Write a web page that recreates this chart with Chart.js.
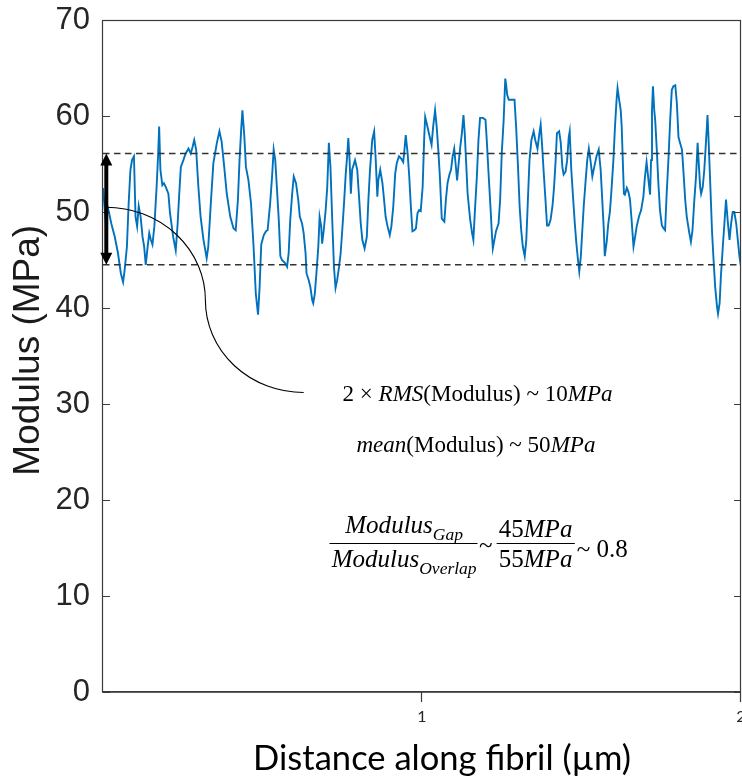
<!DOCTYPE html>
<html>
<head>
<meta charset="utf-8">
<title>Modulus along fibril</title>
<script src="https://cdn.jsdelivr.net/npm/chart.js@4.4.1/dist/chart.umd.min.js"></script>
<style>
  html, body { margin: 0; padding: 0; background: #ffffff; overflow: hidden; }
  #wrap { width: 742px; height: 777px; position: relative; }
  canvas { display: block; }
</style>
</head>
<body>
<div id="wrap"><canvas id="chart" width="742" height="777"></canvas></div>
<script>
// Distance along the fibril (µm) and measured modulus (MPa)
const distance = [
  0.000,0.008,0.014,0.019,0.026,0.037,0.047,0.056,0.063,0.068,0.075,0.080,0.086,0.091,0.097,0.102,0.107,0.112,0.118,0.124,0.129,0.134,0.140,0.145,0.150,0.155,0.161,0.168,0.173,0.176,0.180,0.186,0.191,0.197,0.205,0.210,0.220,0.228,0.234,0.239,0.244,0.252,0.259,0.268,
  0.275,0.281,0.286,0.292,0.299,0.306,0.315,0.325,0.330,0.338,0.346,0.357,0.365,0.372,0.380,0.388,0.399,0.409,0.416,0.423,0.428,0.433,0.437,0.443,0.448,0.456,0.464,0.472,0.479,0.486,0.491,0.496,0.504,0.511,0.516,
  0.524,0.530,0.535,0.540,0.545,0.551,0.556,0.561,0.570,0.577,0.582,0.587,0.593,0.598,0.605,0.612,0.617,0.624,0.629,0.635,0.638,0.645,0.650,0.656,0.659,0.664,0.669,0.675,0.679,0.684,0.687,0.692,0.698,0.703,0.708,0.713,0.719,0.724,0.729,0.734,0.740,0.745,0.750,0.755,0.761,0.766,0.769,0.773,0.777,0.781,0.790,0.797,
  0.802,0.808,0.813,0.820,0.827,0.832,0.837,0.844,0.850,0.855,0.860,0.863,0.869,0.876,0.881,0.886,0.892,0.899,0.904,0.910,0.916,0.921,0.928,0.934,0.941,0.944,0.949,0.955,0.960,0.965,0.970,0.976,0.981,0.986,0.991,0.996,1.002,1.007,1.010,1.015,1.023,1.030,1.035,1.041,1.046,1.051,1.056,1.062,1.070,
  1.075,1.080,1.086,1.091,1.096,1.101,1.107,1.110,1.115,1.120,1.125,1.130,1.134,1.138,1.143,1.151,1.157,1.161,1.166,1.172,1.177,1.182,1.191,1.199,1.203,1.208,1.214,1.219,1.222,1.227,1.232,1.240,1.245,1.250,1.256,1.261,1.264,1.267,1.272,1.280,1.290,1.295,1.301,1.306,1.311,1.316,1.322,1.327,1.332,1.337,
  1.343,1.350,1.355,1.362,1.368,1.372,1.376,1.381,1.387,1.392,1.397,1.403,1.409,1.414,1.419,1.423,1.430,1.435,1.440,1.444,1.450,1.455,1.460,1.463,1.468,1.474,1.479,1.484,1.489,1.493,1.498,1.502,1.507,1.513,1.518,1.523,1.528,1.534,1.540,1.547,1.554,1.560,1.565,1.570,1.573,1.579,1.584,1.589,
  1.594,1.600,1.605,1.610,1.613,1.618,1.623,1.626,1.629,1.633,1.636,1.642,1.647,1.652,1.657,1.663,1.668,1.673,1.680,1.687,1.694,1.699,1.704,1.710,1.715,1.718,1.721,1.724,1.728,1.731,1.736,1.741,1.746,1.752,1.757,1.762,1.767,1.773,1.778,1.783,1.788,1.794,1.799,1.804,1.809,1.815,1.820,1.825,1.830,1.838,1.843,1.848,1.853,1.859,1.864,
  1.867,1.872,1.875,1.880,1.885,1.890,1.893,1.895,1.898,1.904,1.909,1.914,1.919,1.925,1.928,1.933,1.937,1.943,1.948,1.953,1.958,1.964,1.969,1.974,1.979,1.985,1.990,1.995,2.000
];
const modulus = [
  52.5,49.2,50.6,49.9,48.8,47.4,45.7,43.6,42.7,44.0,46.4,50.6,54.4,55.4,55.8,49.5,48.5,50.6,49.5,47.4,46.4,44.5,46.4,47.8,47.1,46.6,48.5,52.6,56.1,58.9,54.4,52.8,53.0,52.6,51.9,49.9,47.4,46.0,48.8,51.9,54.7,55.4,56.1,56.6,
  56.1,56.8,57.5,56.5,52.6,49.5,47.1,45.2,46.4,50.9,55.1,57.2,58.4,57.3,54.7,51.9,49.5,48.3,48.1,51.3,55.4,58.5,60.6,57.9,54.7,53.3,50.9,46.4,41.5,39.3,42.2,46.6,47.6,48.0,48.1,
  50.9,53.7,56.5,55.4,52.6,49.2,45.4,45.0,44.7,44.3,45.7,49.2,51.9,53.7,53.0,51.3,49.5,48.8,47.8,45.7,43.6,42.9,42.2,40.8,40.5,41.5,43.6,46.4,49.5,48.5,46.7,48.1,50.2,52.6,57.2,54.7,48.8,44.3,42.1,42.9,44.3,45.7,48.1,50.6,54.0,56.1,57.7,55.4,51.9,54.4,55.4,54.4,
  51.9,48.8,47.1,46.2,47.4,51.3,54.4,57.5,58.4,55.4,51.6,53.3,54.4,53.0,51.3,49.5,48.5,47.6,48.5,50.6,54.0,55.1,55.8,55.6,55.2,56.1,58.0,56.1,53.7,50.6,48.0,48.1,48.3,49.9,50.2,50.1,52.6,57.8,59.9,59.2,58.0,57.0,58.9,60.6,58.9,56.5,53.7,49.3,49.0,
  51.3,53.0,53.9,54.4,55.8,56.6,54.4,53.3,55.1,56.8,58.2,60.1,58.2,55.4,51.9,49.2,47.8,47.1,50.2,53.7,57.5,59.8,59.8,59.6,57.5,54.4,50.9,47.8,46.2,47.1,48.0,48.8,51.3,56.1,59.6,63.9,63.2,62.2,61.7,61.7,61.7,58.9,54.7,50.6,48.1,46.4,45.4,47.1,51.3,55.4,
  57.5,58.4,57.5,56.6,58.2,59.1,57.2,54.4,51.3,48.6,48.6,49.2,50.6,52.6,55.4,58.2,58.4,57.2,54.7,53.9,54.2,55.4,57.8,58.4,54.4,51.3,48.8,46.7,45.0,43.8,45.4,47.8,50.6,53.3,55.4,56.6,55.4,53.7,54.7,55.8,56.5,54.4,51.3,48.1,45.4,46.9,48.8,50.0,
  52.3,55.4,58.9,61.7,62.9,61.7,60.6,58.9,55.8,51.9,51.8,52.5,52.1,51.3,49.2,46.4,47.4,48.5,49.5,50.2,51.6,53.7,55.2,53.3,51.8,55.4,60.6,63.1,60.6,59.6,56.5,53.0,50.2,48.6,48.3,48.1,51.9,55.8,59.6,62.7,63.1,63.2,61.3,57.8,57.2,56.5,54.0,51.3,49.5,47.8,46.9,48.1,50.9,53.7,57.2,
  55.4,52.6,51.9,52.6,54.4,57.2,58.9,60.1,57.8,52.6,48.1,45.0,42.2,40.1,39.4,40.5,43.3,46.4,48.8,51.3,49.2,47.1,48.8,50.0,50.0,48.8,47.1,45.4,44.3
];

// Band of mean ± RMS (MPa)
const overlapLevel = 56.1;
const gapLevel = 44.5;

// Axis ticks
const yTickValues = [0, 10, 20, 30, 40, 50, 60, 70];
const xTickValues = [1, 2];

// Axis titles
const xTitle = 'Distance along fibril (µm)';
const yTitle = 'Modulus (MPa)';

// Annotation text, as runs: t = text, it = italic, sub = subscript
const rmsLine = [
  { t: '2 × ' }, { t: 'RMS', it: true }, { t: '(Modulus) ~ 10' }, { t: 'MPa', it: true }
];
const meanLine = [
  { t: 'mean', it: true }, { t: '(Modulus) ~ 50' }, { t: 'MPa', it: true }
];
const ratioNum = [{ t: 'Modulus', it: true }, { t: 'Gap', it: true, sub: true }];
const ratioDen = [{ t: 'Modulus', it: true }, { t: 'Overlap', it: true, sub: true }];
const valueNum = [{ t: '45' }, { t: 'MPa', it: true }];
const valueDen = [{ t: '55' }, { t: 'MPa', it: true }];
const ratioResult = [{ t: '~ 0.8' }];

const SERIF = "'Liberation Serif', 'Times New Roman', serif";
const SANS = "'Liberation Sans', Arial, sans-serif";
const TITLE_X_FONT = "Lato, 'Open Sans', sans-serif";

const points = distance.map((d, i) => ({ x: d, y: modulus[i] }));

function setFont(ctx, size, italic, family) {
  ctx.font = (italic ? 'italic ' : '') + size.toFixed(2) + 'px ' + family;
}
function runsWidth(ctx, runs, size) {
  let w = 0;
  for (const r of runs) {
    setFont(ctx, r.sub ? size * 0.7 : size, r.it, SERIF);
    w += ctx.measureText(r.t).width;
  }
  return w;
}
function drawRuns(ctx, runs, cx, baseline, size) {
  let x = cx - runsWidth(ctx, runs, size) / 2;
  ctx.textAlign = 'left';
  ctx.textBaseline = 'alphabetic';
  for (const r of runs) {
    const s = r.sub ? size * 0.7 : size;
    setFont(ctx, s, r.it, SERIF);
    ctx.fillText(r.t, x, baseline + (r.sub ? size * 0.26 : 0));
    x += ctx.measureText(r.t).width;
  }
}
// font size that gives a run list the requested width
function sizeForWidth(ctx, runs, width) {
  return 20 * width / runsWidth(ctx, runs, 20);
}

const decorations = {
  id: 'decorations',
  afterDraw(chart) {
    const { ctx, chartArea: a } = chart;
    const xs = chart.scales.x, ys = chart.scales.y;
    const px = v => xs.getPixelForValue(v);
    const py = v => ys.getPixelForValue(v);
    ctx.save();

    // axes box
    ctx.strokeStyle = '#3a3a3a';
    ctx.lineWidth = 1.2;
    ctx.strokeRect(a.left - 0.5, a.top + 0.5, a.right - a.left, a.bottom - a.top - 0.5);
    ctx.lineWidth = 1.6;
    ctx.beginPath(); ctx.moveTo(a.left - 1, a.bottom - 0.2); ctx.lineTo(a.right, a.bottom - 0.2); ctx.stroke();
    ctx.lineWidth = 1.2;

    // y ticks pointing inward on both sides
    ctx.beginPath();
    for (const v of yTickValues) {
      const y = Math.round(py(v)) + 0.5;
      ctx.moveTo(a.left, y); ctx.lineTo(a.left + 7, y);
      ctx.moveTo(a.right, y); ctx.lineTo(a.right - 7, y);
    }
    // x ticks below the axis
    for (const v of xTickValues) {
      const x = Math.round(px(v)) - 0.5;
      ctx.moveTo(x, a.bottom); ctx.lineTo(x, a.bottom + 10);
    }
    ctx.stroke();

    // double arrow spanning the band
    const ax = a.left + 3.3;
    const yT = py(overlapLevel), yB = py(gapLevel);
    ctx.strokeStyle = '#000'; ctx.fillStyle = '#000';
    ctx.lineWidth = 4;
    ctx.beginPath(); ctx.moveTo(ax, yT + 8); ctx.lineTo(ax, yB - 8); ctx.stroke();
    ctx.beginPath();
    ctx.moveTo(ax, yT); ctx.lineTo(ax - 6, yT + 12); ctx.lineTo(ax + 6, yT + 12); ctx.closePath();
    ctx.moveTo(ax, yB); ctx.lineTo(ax - 6, yB - 12); ctx.lineTo(ax + 6, yB - 12); ctx.closePath();
    ctx.fill();

    // connector from the arrow to the RMS note (two quarter ellipses)
    const s = [px(0.01), py(50.5)], m = [px(0.321), py(40.8)], e = [px(0.629), py(31.2)];
    ctx.lineWidth = 1.1;
    ctx.beginPath();
    ctx.ellipse(s[0], m[1], m[0] - s[0], m[1] - s[1], 0, -Math.PI / 2, 0);
    ctx.ellipse(e[0], m[1], e[0] - m[0], e[1] - m[1], 0, Math.PI, Math.PI / 2, true);
    ctx.stroke();

    // notes
    ctx.fillStyle = '#000';
    const s1 = sizeForWidth(ctx, rmsLine, 270);
    drawRuns(ctx, rmsLine, px(1.174), py(30.3), s1);
    drawRuns(ctx, meanLine, px(1.169), py(25.0), s1);

    const s2 = sizeForWidth(ctx, ratioDen, 145);
    const barY = Math.round(py(15.52)) + 0.5;
    ctx.strokeStyle = '#000';
    ctx.lineWidth = 1;
    ctx.beginPath();
    ctx.moveTo(px(0.71), barY); ctx.lineTo(px(1.174), barY);
    ctx.moveTo(px(1.234), barY); ctx.lineTo(px(1.479), barY);
    ctx.stroke();
    drawRuns(ctx, ratioNum, px(0.944), py(16.56), s2);
    drawRuns(ctx, ratioDen, px(0.944), py(13.02), s2);
    drawRuns(ctx, [{ t: '~' }], px(1.200), py(14.48), s2);
    drawRuns(ctx, valueNum, px(1.356), py(16.15), s2);
    drawRuns(ctx, valueDen, px(1.356), py(13.02), s2);
    setFont(ctx, s2, false, SERIF);
    ctx.textAlign = 'left';
    ctx.fillText(ratioResult[0].t, px(1.485), py(14.06));

    // axis titles
    ctx.fillStyle = '#1a1a1a';
    ctx.font = '37px ' + SANS;
    ctx.textAlign = 'center';
    ctx.textBaseline = 'middle';
    ctx.save();
    ctx.translate(a.left - 74, py(35.6));
    ctx.rotate(-Math.PI / 2);
    ctx.fillText(yTitle, 0, 0);
    ctx.restore();

    ctx.font = '36px ' + TITLE_X_FONT;
    const wx = ctx.measureText(xTitle).width;
    const fx = 36 * 378 / wx;
    ctx.font = fx.toFixed(2) + 'px ' + TITLE_X_FONT;
    ctx.fillStyle = '#000';
    ctx.textBaseline = 'alphabetic';
    ctx.fillText(xTitle, px(1.063), 770);

    ctx.restore();
  }
};

function build() {
  new Chart(document.getElementById('chart'), {
    type: 'line',
    data: {
      datasets: [
        {
          label: 'upper',
          data: [{ x: 0, y: overlapLevel }, { x: 2, y: overlapLevel }],
          borderColor: '#333333', borderWidth: 1.5, borderDash: [6.5, 4.5],
          pointRadius: 0, order: 0
        },
        {
          label: 'lower',
          data: [{ x: 0, y: gapLevel }, { x: 2, y: gapLevel }],
          borderColor: '#333333', borderWidth: 1.5, borderDash: [6.5, 4.5],
          pointRadius: 0, order: 0
        },
        {
          label: 'Modulus',
          data: points,
          borderColor: '#0072BD', borderWidth: 1.9,
          pointRadius: 0, tension: 0, fill: false, order: 1
        }
      ]
    },
    options: {
      responsive: false,
      animation: false,
      devicePixelRatio: 1,
      layout: { padding: { top: 20, right: 1, bottom: 0, left: 0 } },
      plugins: { legend: { display: false }, tooltip: { enabled: false } },
      scales: {
        x: {
          type: 'linear', min: 0, max: 2,
          grid: { display: false, drawTicks: false },
          border: { display: false },
          afterBuildTicks: s => { s.ticks = xTickValues.map(v => ({ value: v })); },
          afterFit: s => { s.height = 85; s.paddingLeft = 0; s.paddingRight = 0; },
          ticks: {
            padding: 15, maxRotation: 0, autoSkip: false,
            color: '#262626', font: { family: "Lato, 'Open Sans', sans-serif", size: 16 }
          }
        },
        y: {
          type: 'linear', min: 0, max: 70,
          grid: { display: false, drawTicks: false },
          border: { display: false },
          afterBuildTicks: s => { s.ticks = yTickValues.map(v => ({ value: v })); },
          afterFit: s => { s.width = 103; s.paddingTop = 0; s.paddingBottom = 0; },
          ticks: {
            padding: 13,
            color: '#262626', font: { family: SANS, size: 31 }
          }
        }
      }
    },
    plugins: [decorations]
  });
}

const fontsWanted = ['31px "Liberation Sans"', '36px Lato', '20px "Liberation Serif"', 'italic 20px "Liberation Serif"'];
Promise.all(fontsWanted.map(f => document.fonts.load(f).catch(() => null))).then(build, build);
</script>
</body>
</html>
